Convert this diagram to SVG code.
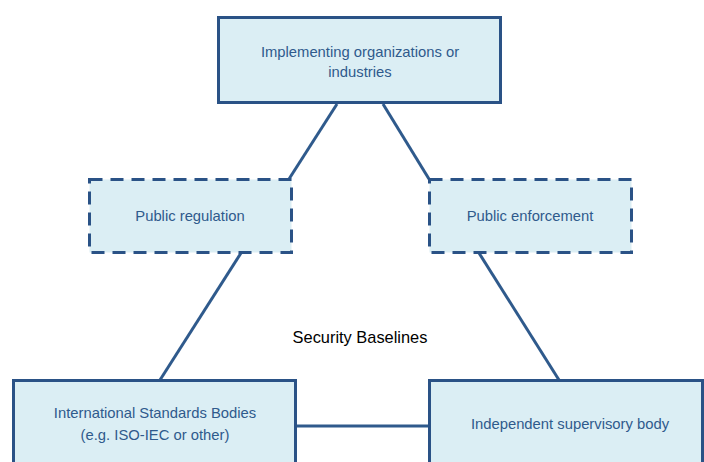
<svg xmlns="http://www.w3.org/2000/svg" width="704" height="462" viewBox="0 0 704 462">
<style>
.box{fill:#dbeef4;stroke:#2a5286;stroke-width:3}
.dash{stroke-dasharray:13 8}
.lbl{font-family:"Liberation Sans",Arial,sans-serif;font-size:14.8px;fill:#2f5a8c;text-anchor:middle}
.conn line{stroke:#2f5a8c;stroke-width:3}
</style>
<rect width="704" height="462" fill="#ffffff"/>
<g id="connectors" class="conn">
<line x1="337" y1="104" x2="289" y2="179"/>
<line x1="383" y1="104" x2="429" y2="179"/>
<line x1="241" y1="253" x2="160" y2="380"/>
<line x1="479" y1="253" x2="559" y2="380"/>
<line x1="296" y1="426" x2="429" y2="426"/>
</g>
<g id="implementing">
<rect class="box" x="218.5" y="17.5" width="282" height="85"/>
<text class="lbl" x="360" y="57">Implementing organizations or</text>
<text class="lbl" x="360" y="77">industries</text>
</g>
<g id="public-regulation">
<rect class="box dash" x="89.5" y="179.5" width="202" height="73"/>
<text class="lbl" x="190" y="221">Public regulation</text>
</g>
<g id="public-enforcement">
<rect class="box dash" x="429.5" y="179.5" width="202" height="73"/>
<text class="lbl" x="530" y="221">Public enforcement</text>
</g>
<g id="security-baselines">
<text x="360" y="343" font-family="Liberation Sans,Arial,sans-serif" font-size="16.4" fill="#000000" text-anchor="middle">Security Baselines</text>
</g>
<g id="international-standards">
<rect class="box" x="13.5" y="380.5" width="282" height="100"/>
<text class="lbl" x="155" y="418">International Standards Bodies</text>
<text class="lbl" x="155" y="440">(e.g. ISO-IEC or other)</text>
</g>
<g id="independent-supervisory">
<rect class="box" x="429.5" y="380.5" width="273" height="100"/>
<text class="lbl" x="570" y="429">Independent supervisory body</text>
</g>
</svg>
